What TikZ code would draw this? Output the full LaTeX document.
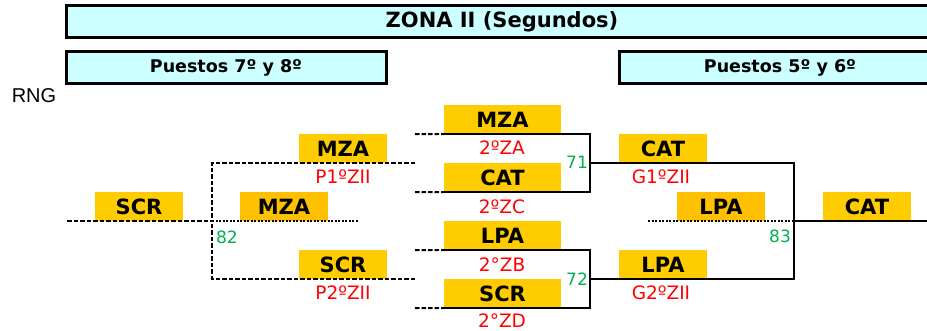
\documentclass[tikz,border=0pt]{standalone}
\usepackage{fontspec}
\setmainfont{DejaVu Sans}
\newfontfamily\rngfont{Liberation Sans}
\definecolor{yel}{HTML}{FFCC00}
\definecolor{ylw}{HTML}{FFC000}
\definecolor{cyn}{HTML}{CCFFFF}
\definecolor{grn}{HTML}{00B050}
\definecolor{rd}{HTML}{FF0000}
\begin{document}
\begin{tikzpicture}[x=1pt,y=-1pt,
    team/.style={fill=yel,minimum width=88,minimum height=29,inner sep=0,
      font=\bfseries\fontsize{21}{21}\selectfont},
    wide/.style={team,minimum width=117},
    head/.style={draw,line width=3pt,fill=cyn,inner sep=0,
      font=\bfseries\fontsize{17.5}{17.5}\selectfont},
    seed/.style={text=rd,inner sep=1pt,font=\fontsize{18.5}{18.5}\selectfont},
    num/.style={text=grn,font=\fontsize{17}{17}\selectfont},
    sol/.style={line width=2pt},
    dsh/.style={line width=2pt,dash pattern=on 4.5pt off 2pt},
    dot/.style={line width=2pt,dash pattern=on 2pt off 1.5pt} ]
  \useasboundingbox (0,0) rectangle (927,331);
  % headers
  \node[head,minimum width=872,minimum height=32,
    font=\bfseries\fontsize{21}{21}\selectfont] (zona) at (502,22) {ZONA II (Segundos)};
  \node[head,minimum width=320,minimum height=32] (p78) at (226,68) {Puestos 7º y 8º};
  \node[head,minimum width=322,minimum height=32] (p56) at (780,68) {Puestos 5º y 6º};
  \node[font=\rngfont\fontsize{20}{20}\selectfont] (rng) at (34,96) {RNG};
  % teams
  \node[wide] (mzaA) at (502.5,119.5) {MZA};
  \node[wide] (catC) at (502.5,177.5) {CAT};
  \node[wide] (lpaB) at (502.5,235.5) {LPA};
  \node[wide] (scrD) at (502.5,293.5) {SCR};
  \node[team] (mzaP) at (343,148.5) {MZA};
  \node[team] (scrP) at (343,264.5) {SCR};
  \node[team] (scrL) at (139,206.5) {SCR};
  \node[team,fill=ylw] (mzaL) at (284,206.5) {MZA};
  \node[team] (catG) at (663,148.5) {CAT};
  \node[team] (lpaG) at (663,264.5) {LPA};
  \node[team,fill=ylw] (lpaR) at (721,206.5) {LPA};
  \node[team] (catF) at (867,206.5) {CAT};
  % seeds
  \node[seed] (zA) at (502,148) {2ºZA};
  \node[seed] (zC) at (502,207) {2ºZC};
  \node[seed] (zB) at (502,265) {2°ZB};
  \node[seed] (zD) at (502,321) {2°ZD};
  \node[seed] (p1) at (343,177) {P1ºZII};
  \node[seed] (p2) at (343,293) {P2ºZII};
  \node[seed] (g1) at (661,177) {G1ºZII};
  \node[seed] (g2) at (661,293) {G2ºZII};
  % match numbers
  \node[num] (n71) at (577,162) {71};
  \node[num] (n72) at (577,279) {72};
  \node[num] (n82) at (227,237) {82};
  \node[num] (n83) at (780,236) {83};
  % joints
  \coordinate (inA) at (415,134);
  \coordinate (inC) at (415,192);
  \coordinate (inB) at (415,250);
  \coordinate (inD) at (415,308);
  \coordinate (m71) at (590,163);
  \coordinate (m72) at (590,279);
  \coordinate (m83) at (794,221);
  \coordinate (o83) at (930,221);
  \coordinate (d83) at (648,221);
  \coordinate (l1) at (415,163);
  \coordinate (l2) at (415,279);
  \coordinate (m82) at (212,221);
  \coordinate (o82) at (67,221);
  \coordinate (d82) at (358,221);
  % brackets
  \draw[dsh] (inA) -- (mzaA.south west);
  \draw[dsh] (inC) -- (catC.south west);
  \draw[dsh] (inB) -- (lpaB.south west);
  \draw[dsh] (inD) -- (scrD.south west);
  \draw[sol] (mzaA.south west) -| (m71);
  \draw[sol] (catC.south west) -| (m71);
  \draw[sol] (lpaB.south west) -| (m72);
  \draw[sol] (scrD.south west) -| (m72);
  \draw[sol] (m71) -| (m83);
  \draw[sol] (m72) -| (m83);
  \draw[sol] (m83) -- (o83);
  \draw[dot] (d83) -- (m83);
  \draw[dsh] (l1) -| (m82);
  \draw[dsh] (l2) -| (m82);
  \draw[dsh] (o82) -- (m82);
  \draw[dot] (m82) -- (d82);
\end{tikzpicture}
\end{document}
